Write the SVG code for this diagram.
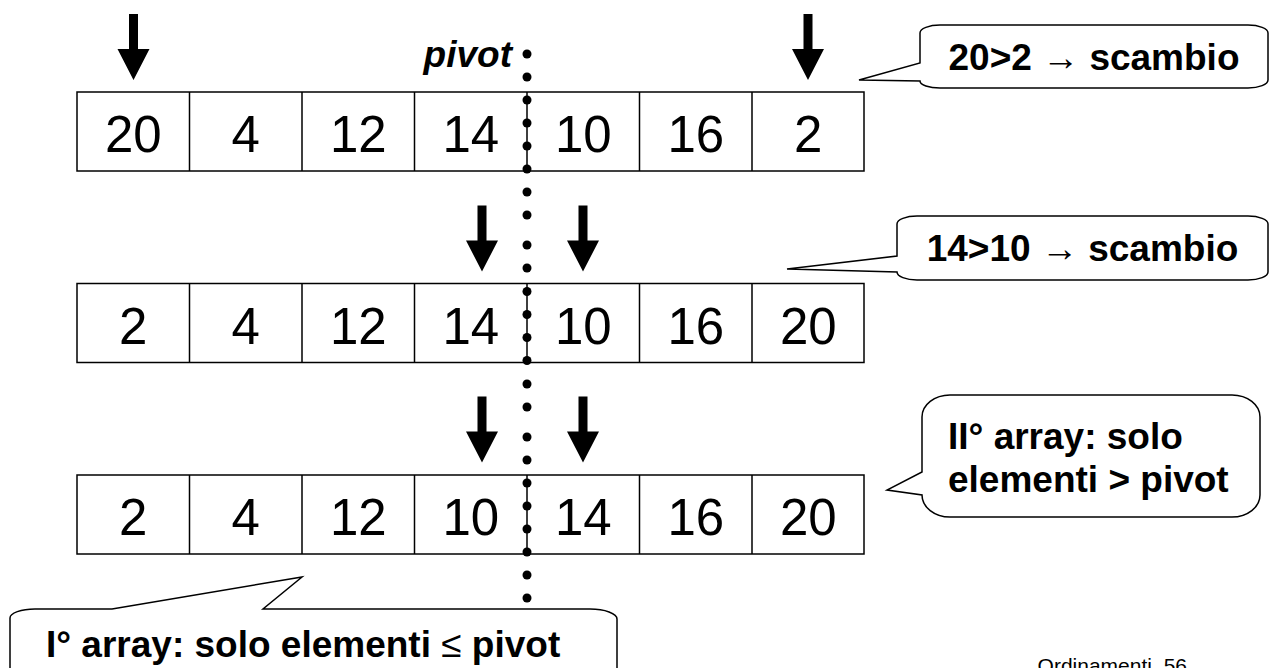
<svg xmlns="http://www.w3.org/2000/svg" width="1271" height="668" viewBox="0 0 1271 668">
<style>
.cell{fill:#fff;stroke:#000;stroke-width:1.5}
.num{font-family:"Liberation Sans",Arial,sans-serif;font-size:51px;text-anchor:middle;fill:#000}
.arrow{fill:#000}
.dot{fill:#000}
.callout{fill:#fff;stroke:#000;stroke-width:1.5;stroke-linejoin:miter}
.ct{font-family:"Liberation Sans",Arial,sans-serif;font-size:37px;font-weight:bold;fill:#000}
.sym{font-weight:normal}
.foot{font-family:"Liberation Sans",Arial,sans-serif;font-size:21px;fill:#000;white-space:pre}
</style>
<defs>
<path id="arr" class="arrow" d="M-4.5,0 H4.5 V35 H16 L0,66 L-16,35 H-4.5 Z"/>
</defs>

<g id="row1">
<rect class="cell" x="77" y="92" width="787" height="79"/>
<path class="cell" d="M189.5,92V171M302,92V171M414.5,92V171M527,92V171M639.5,92V171M752,92V171"/>
<text class="num" x="133.25" y="152">20</text>
<text class="num" x="245.75" y="152">4</text>
<text class="num" x="358.25" y="152">12</text>
<text class="num" x="470.75" y="152">14</text>
<text class="num" x="583.25" y="152">10</text>
<text class="num" x="695.75" y="152">16</text>
<text class="num" x="808.25" y="152">2</text>
</g>

<g id="row2">
<rect class="cell" x="77" y="283.5" width="787" height="79"/>
<path class="cell" d="M189.5,283.5V362.5M302,283.5V362.5M414.5,283.5V362.5M527,283.5V362.5M639.5,283.5V362.5M752,283.5V362.5"/>
<text class="num" x="133.25" y="343.5">2</text>
<text class="num" x="245.75" y="343.5">4</text>
<text class="num" x="358.25" y="343.5">12</text>
<text class="num" x="470.75" y="343.5">14</text>
<text class="num" x="583.25" y="343.5">10</text>
<text class="num" x="695.75" y="343.5">16</text>
<text class="num" x="808.25" y="343.5">20</text>
</g>

<g id="row3">
<rect class="cell" x="77" y="475" width="787" height="79"/>
<path class="cell" d="M189.5,475V554M302,475V554M414.5,475V554M527,475V554M639.5,475V554M752,475V554"/>
<text class="num" x="133.25" y="535">2</text>
<text class="num" x="245.75" y="535">4</text>
<text class="num" x="358.25" y="535">12</text>
<text class="num" x="470.75" y="535">10</text>
<text class="num" x="583.25" y="535">14</text>
<text class="num" x="695.75" y="535">16</text>
<text class="num" x="808.25" y="535">20</text>
</g>

<g id="pivot-line">
<text class="ct" x="512" y="67" text-anchor="end" font-style="italic">pivot</text>
<g class="dot">
<circle cx="527" cy="54" r="4.5"/><circle cx="527" cy="77" r="4.5"/>
<circle cx="527" cy="100" r="4.5"/><circle cx="527" cy="123" r="4.5"/><circle cx="527" cy="146" r="4.5"/><circle cx="527" cy="169" r="4.5"/>
<circle cx="527" cy="192" r="4.5"/><circle cx="527" cy="215" r="4.5"/><circle cx="527" cy="245" r="4.5"/><circle cx="527" cy="268" r="4.5"/>
<circle cx="527" cy="291.5" r="4.5"/><circle cx="527" cy="314.5" r="4.5"/><circle cx="527" cy="337.5" r="4.5"/><circle cx="527" cy="360.5" r="4.5"/>
<circle cx="527" cy="384" r="4.5"/><circle cx="527" cy="407" r="4.5"/><circle cx="527" cy="437" r="4.5"/><circle cx="527" cy="460" r="4.5"/>
<circle cx="527" cy="483" r="4.5"/><circle cx="527" cy="506" r="4.5"/><circle cx="527" cy="529" r="4.5"/><circle cx="527" cy="552" r="4.5"/>
<circle cx="527" cy="575" r="4.5"/><circle cx="527" cy="598" r="4.5"/>
</g>
</g>

<g id="arrows">
<use href="#arr" x="133.5" y="14"/>
<use href="#arr" x="808" y="14"/>
<use href="#arr" x="482" y="205.5"/>
<use href="#arr" x="583" y="205.5"/>
<use href="#arr" x="482" y="396.5"/>
<use href="#arr" x="583" y="396.5"/>
</g>

<g id="callout1">
<path class="callout" d="M940,25 H1248 A20,8 0 0 1 1268,33 V80 A20,8 0 0 1 1248,88 H940 A20,7 0 0 1 920,81 L859,80 L920,63 V33 A20,8 0 0 1 940,25 Z"/>
<text class="ct" x="1094" y="70" text-anchor="middle">20&gt;2 <tspan class="sym">→</tspan> scambio</text>
</g>

<g id="callout2">
<path class="callout" d="M917,216 H1248 A20,8 0 0 1 1268,224 V272 A20,8 0 0 1 1248,280 H917 A20,8 0 0 1 897,272 L787,269 L897,256 V224 A20,8 0 0 1 917,216 Z"/>
<text class="ct" x="1082.5" y="261" text-anchor="middle">14&gt;10 <tspan class="sym">→</tspan> scambio</text>
</g>

<g id="callout3">
<path class="callout" d="M950,395 H1232 A28,22 0 0 1 1260,417 V495 A28,22 0 0 1 1232,517 H950 A28,22 0 0 1 922,495 L887,490 L922,472 V417 A28,22 0 0 1 950,395 Z"/>
<text class="ct" x="948" y="449">II° array: solo</text>
<text class="ct" x="948" y="492">elementi &gt; pivot</text>
</g>

<g id="callout4">
<path class="callout" d="M10,700 V618 A25,9 0 0 1 35,609 H112 L302,577 L263,609 H590 A27,10 0 0 1 617,619 V700 Z"/>
<text class="ct" x="46" y="657">I° array: solo elementi <tspan class="sym">≤</tspan> pivot</text>
</g>

<g id="footer">
<text class="foot" x="1187" y="673" text-anchor="end">Ordinamenti  56</text>
</g>
</svg>
